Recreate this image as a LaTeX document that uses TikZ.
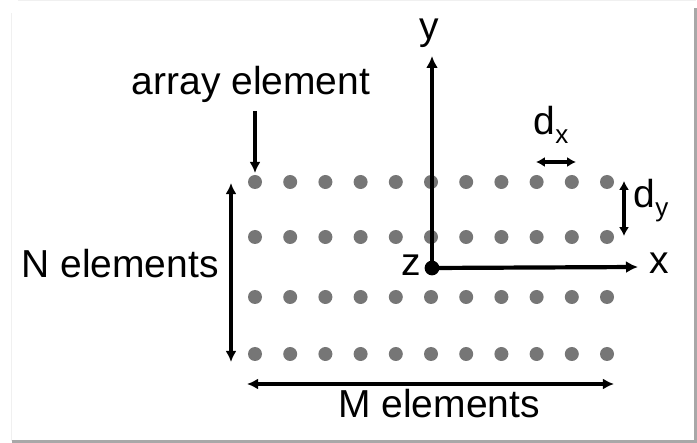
\documentclass[tikz,border=0pt]{standalone}
\usepackage{fontspec}
\setmainfont{Liberation Sans}
\usepackage{tikz}
\usetikzlibrary{arrows.meta,positioning,calc}
\usepackage{xcolor}
\definecolor{DotGray}{HTML}{767676}
\definecolor{FrameGray}{HTML}{A8A8A8}
\tikzset{
  array dot/.style={circle,fill=DotGray,inner sep=0pt,minimum size=7pt},
  origin dot/.style={circle,fill=black,inner sep=0pt,minimum size=7.4pt},
  label text/.style={anchor=base,inner sep=0pt,font=\fontsize{19.5}{23}\selectfont},
  axis arrow/.style={-{Latex[length=6pt,width=6pt]},draw=black,line width=2.1pt},
  pointer arrow/.style={-{Latex[length=5.6pt,width=5.6pt]},draw=black,line width=1.7pt},
  dim arrow/.style={{Latex[length=5.6pt,width=5.6pt]}-{Latex[length=5.6pt,width=5.6pt]},draw=black,line width=1.7pt},
  small arrow/.style={{Latex[length=4.4pt,width=5pt]}-{Latex[length=4.4pt,width=5pt]},draw=black,line width=1.6pt}
}
\newcommand{\subtext}[1]{\raisebox{-0.22em}{\fontsize{13}{15}\selectfont #1}}

\begin{document}
\begin{tikzpicture}[x=0.5pt,y=-0.5pt]
  \useasboundingbox (0,0) rectangle (697,443);
  % frame
  \draw[gray!12,line width=0.5pt] (11,13) -- (11,441);
  \draw[gray!12,line width=0.5pt] (18,0.6) -- (696,0.6);
  \draw[FrameGray,line width=1.6pt] (12,441.5) -- (695.5,441.5) -- (695.5,8);
  % array of elements
  \foreach \r/\yy in {1/182,2/237,3/297,4/354}
    \foreach \c in {1,...,11}
      \node[array dot] (e-\r-\c) at ({255+35.2*(\c-1)},\yy) {};
  % coordinate axes
  \node[origin dot] (origin) at (432,268) {};
  \coordinate (ytip) at (432,56);
  \coordinate (xtip) at (638,267);
  \draw[axis arrow] (origin.center) -- (ytip);
  \draw[axis arrow] (origin.center) -- (xtip);
  \node[label text] (ylabel) at (429,40) {y};
  \node[label text] (xlabel) at (659,274) {x};
  \node[label text] (zlabel) at (411,276) {z};
  % labels and dimensions
  \node[label text] (arraylabel) at (251,95) {array element};
  \coordinate (arraytail) at (255,111);
  \coordinate (arrayhead) at (255,173);
  \draw[pointer arrow] (arraytail) -- (arrayhead);
  \coordinate (ntop) at (231,183);
  \coordinate (nbot) at (231,362);
  \draw[dim arrow] (ntop) -- (nbot);
  \node[label text] (nlabel) at (120,278) {N elements};
  \coordinate (mleft) at (247,384);
  \coordinate (mright) at (614,384);
  \draw[dim arrow] (mleft) -- (mright);
  \node[label text] (mlabel) at (439,418) {M elements};
  \coordinate (dxleft) at (536,162);
  \coordinate (dxright) at (576,162);
  \draw[small arrow] (dxleft) -- (dxright);
  \node[label text] (dxlabel) at (551,135) {d\subtext{x}};
  \coordinate (dytop) at (624,181);
  \coordinate (dybot) at (624,236);
  \draw[small arrow] (dytop) -- (dybot);
  \node[label text] (dylabel) at (651,208) {d\subtext{y}};
\end{tikzpicture}
\end{document}
